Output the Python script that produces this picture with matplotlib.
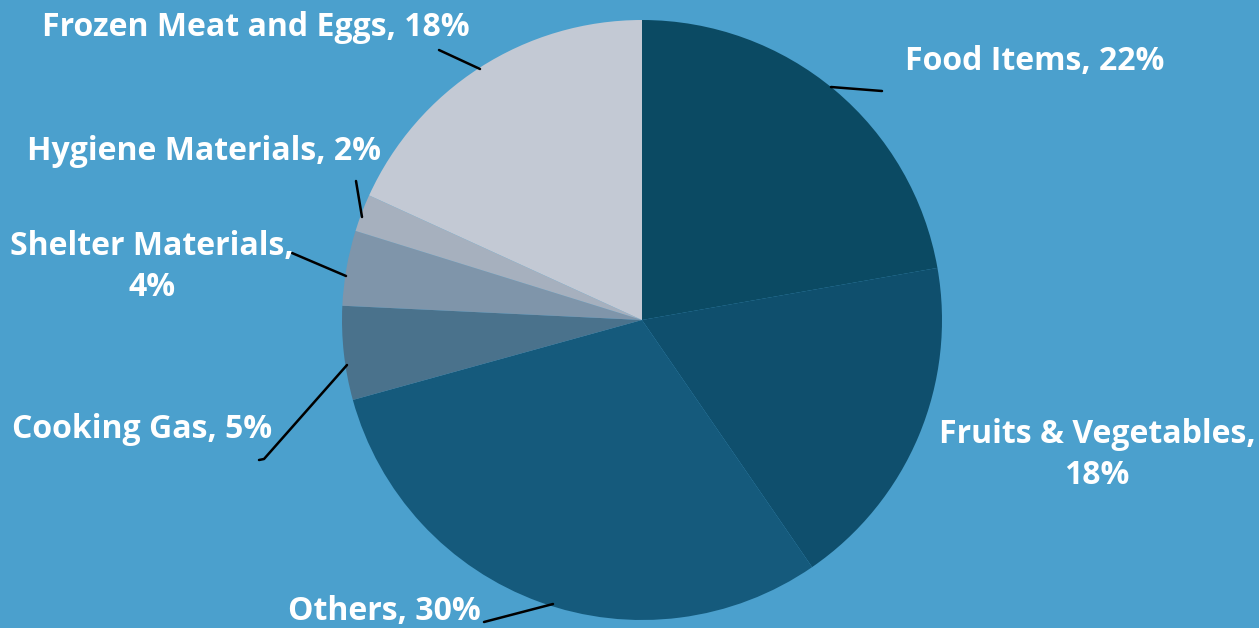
import matplotlib
matplotlib.use("Agg")
import matplotlib.pyplot as plt

# slices, clockwise from 12 o'clock
categories = ["Food Items", "Fruits & Vegetables", "Others", "Cooking Gas",
              "Shelter Materials", "Hygiene Materials", "Frozen Meat and Eggs"]
shares = [22, 18, 30, 5, 4, 2, 18]
colors = ["#0b4a63", "#0f4f6d", "#155a7c", "#4a728c", "#7f95aa", "#a6b0be", "#c3c9d4"]
label_breaks = [False, True, False, False, True, False, False]

BG = "#4ba0cd"
W, H = 1259, 628

fig = plt.figure(figsize=(W / 100, H / 100), dpi=100, facecolor=BG)
ax = fig.add_axes([0, 0, 1, 1])
ax.set_facecolor(BG)

# y axis runs downward (pixel-like), so counterclock=True draws clockwise on screen
ax.pie(shares, colors=colors, startangle=-90, counterclock=True,
       center=(642, 320), radius=300, frame=False,
       wedgeprops=dict(linewidth=0))
ax.set_xlim(0, W)
ax.set_ylim(H, 0)
ax.axis("off")

# label position (x, y) and leader line points for each slice
label_pos = [(1035, 61), (1097, 455), (384, 612), (142, 429),
             (152, 267), (204, 152), (256, 27)]
leaders = [[(831, 87), (882, 91)],
           None,
           [(484, 622), (553, 604)],
           [(347, 365), (264, 459), (259, 460)],
           [(292, 253), (346, 276)],
           [(356, 181), (362, 217)],
           [(439, 50), (480, 69)]]

for name, val, brk, (x, y), pts in zip(categories, shares, label_breaks, label_pos, leaders):
    txt = f"{name},\n{val}%" if brk else f"{name}, {val}%"
    ax.text(x, y, txt, ha="center", va="center", color="white", fontsize=23,
            fontfamily="Open Sans", fontweight="bold", linespacing=1.35)
    if pts:
        ax.plot([p[0] for p in pts], [p[1] for p in pts], color="black", lw=1.8,
                solid_capstyle="round")

fig.savefig("out.png", dpi=100, facecolor=BG)
